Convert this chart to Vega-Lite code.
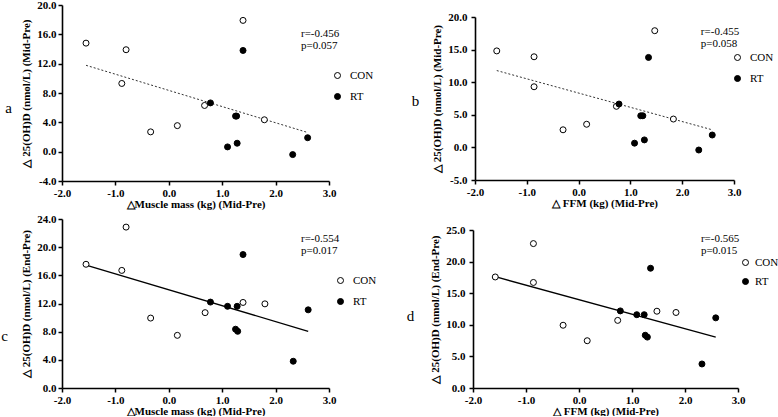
{
  "$schema": "https://vega.github.io/schema/vega-lite/v6.json",
  "padding": {"left": 1, "top": -1, "right": 0, "bottom": 0},
  "background": "white",
  "config": {
    "view": {"stroke": null},
    "font": "Liberation Serif",
    "axis": {
      "grid": false, "domainColor": "black", "domainWidth": 1.6, "tickColor": "black", "tickWidth": 1.5, "tickSize": 4,
      "labelFont": "Liberation Serif", "labelFontSize": 11, "labelFontWeight": "bold", "labelColor": "black", "labelPadding": 2,
      "labelOverlap": false, "labelFlush": false, "tickCount": 12,
      "titleFont": "Liberation Serif", "titleFontSize": 11, "titleFontWeight": "bold", "titleColor": "black",
      "format": ".1f", "labelExpr": "replace(datum.label, '−', '-')"
    },
    "axisX": {"titlePadding": 0},
    "axisY": {"titlePadding": 5},
    "legend": {
      "orient": "none", "title": null, "symbolType": "circle", "symbolSize": 36, "symbolStrokeColor": "black", "symbolStrokeWidth": 1,
      "labelFont": "Liberation Serif", "labelFontSize": 11, "labelColor": "black", "labelOffset": 7, "rowPadding": 9, "padding": 0
    },
    "text": {"font": "Liberation Serif", "color": "black", "fontSize": 11}
  },
  "datasets": {
    "points": [
      {"panel": "a", "group": "CON", "x": -1.55, "y": 14.8},
      {"panel": "a", "group": "CON", "x": -0.80, "y": 13.9},
      {"panel": "a", "group": "CON", "x": -0.88, "y": 9.3},
      {"panel": "a", "group": "CON", "x": -0.34, "y": 2.7},
      {"panel": "a", "group": "CON", "x": 0.16, "y": 3.55},
      {"panel": "a", "group": "CON", "x": 0.67, "y": 6.3},
      {"panel": "a", "group": "CON", "x": 1.39, "y": 17.9},
      {"panel": "a", "group": "CON", "x": 1.79, "y": 4.35},
      {"panel": "a", "group": "RT", "x": 0.78, "y": 6.65},
      {"panel": "a", "group": "RT", "x": 1.39, "y": 13.8},
      {"panel": "a", "group": "RT", "x": 1.25, "y": 4.85},
      {"panel": "a", "group": "RT", "x": 1.27, "y": 4.85},
      {"panel": "a", "group": "RT", "x": 1.10, "y": 0.65},
      {"panel": "a", "group": "RT", "x": 1.28, "y": 1.15},
      {"panel": "a", "group": "RT", "x": 2.32, "y": -0.4},
      {"panel": "a", "group": "RT", "x": 2.60, "y": 1.9},
      {"panel": "b", "group": "CON", "x": -1.58, "y": 14.8},
      {"panel": "b", "group": "CON", "x": -0.86, "y": 13.9},
      {"panel": "b", "group": "CON", "x": -0.86, "y": 9.3},
      {"panel": "b", "group": "CON", "x": -0.30, "y": 2.7},
      {"panel": "b", "group": "CON", "x": 0.155, "y": 3.55},
      {"panel": "b", "group": "CON", "x": 0.73, "y": 6.3},
      {"panel": "b", "group": "CON", "x": 1.47, "y": 17.9},
      {"panel": "b", "group": "CON", "x": 1.83, "y": 4.35},
      {"panel": "b", "group": "RT", "x": 0.78, "y": 6.65},
      {"panel": "b", "group": "RT", "x": 1.35, "y": 13.8},
      {"panel": "b", "group": "RT", "x": 1.20, "y": 4.85},
      {"panel": "b", "group": "RT", "x": 1.24, "y": 4.85},
      {"panel": "b", "group": "RT", "x": 1.08, "y": 0.65},
      {"panel": "b", "group": "RT", "x": 1.27, "y": 1.15},
      {"panel": "b", "group": "RT", "x": 2.32, "y": -0.4},
      {"panel": "b", "group": "RT", "x": 2.58, "y": 1.9},
      {"panel": "c", "group": "CON", "x": -1.55, "y": 17.57},
      {"panel": "c", "group": "CON", "x": -0.80, "y": 22.85},
      {"panel": "c", "group": "CON", "x": -0.88, "y": 16.7},
      {"panel": "c", "group": "CON", "x": -0.34, "y": 9.93},
      {"panel": "c", "group": "CON", "x": 0.16, "y": 7.48},
      {"panel": "c", "group": "CON", "x": 0.68, "y": 10.7},
      {"panel": "c", "group": "CON", "x": 1.39, "y": 12.15},
      {"panel": "c", "group": "CON", "x": 1.80, "y": 11.95},
      {"panel": "c", "group": "RT", "x": 0.78, "y": 12.2},
      {"panel": "c", "group": "RT", "x": 1.10, "y": 11.6},
      {"panel": "c", "group": "RT", "x": 1.28, "y": 11.6},
      {"panel": "c", "group": "RT", "x": 1.25, "y": 8.35},
      {"panel": "c", "group": "RT", "x": 1.29, "y": 8.05},
      {"panel": "c", "group": "RT", "x": 1.39, "y": 18.95},
      {"panel": "c", "group": "RT", "x": 2.33, "y": 3.8},
      {"panel": "c", "group": "RT", "x": 2.61, "y": 11.1},
      {"panel": "d", "group": "CON", "x": -1.58, "y": 17.57},
      {"panel": "d", "group": "CON", "x": -0.86, "y": 22.85},
      {"panel": "d", "group": "CON", "x": -0.86, "y": 16.7},
      {"panel": "d", "group": "CON", "x": -0.30, "y": 9.93},
      {"panel": "d", "group": "CON", "x": 0.155, "y": 7.48},
      {"panel": "d", "group": "CON", "x": 0.73, "y": 10.7},
      {"panel": "d", "group": "CON", "x": 1.47, "y": 12.15},
      {"panel": "d", "group": "CON", "x": 1.83, "y": 11.95},
      {"panel": "d", "group": "RT", "x": 0.78, "y": 12.2},
      {"panel": "d", "group": "RT", "x": 1.09, "y": 11.6},
      {"panel": "d", "group": "RT", "x": 1.23, "y": 11.6},
      {"panel": "d", "group": "RT", "x": 1.25, "y": 8.35},
      {"panel": "d", "group": "RT", "x": 1.29, "y": 8.05},
      {"panel": "d", "group": "RT", "x": 1.35, "y": 18.95},
      {"panel": "d", "group": "RT", "x": 2.32, "y": 3.8},
      {"panel": "d", "group": "RT", "x": 2.58, "y": 11.1}
    ],
    "notes": [
      {"panel": "a", "letter": "a", "r": "r=-0.456", "p": "p=0.057"},
      {"panel": "b", "letter": "b", "r": "r=-0.455", "p": "p=0.058"},
      {"panel": "c", "letter": "c", "r": "r=-0.554", "p": "p=0.017"},
      {"panel": "d", "letter": "d", "r": "r=-0.565", "p": "p=0.015"}
    ]
  },
  "bounds": "flush",
  "spacing": 214,
  "resolve": {"scale": {"fill": "independent"}, "legend": {"fill": "independent"}},
  "vconcat": [
    {
      "bounds": "flush",
      "spacing": 146,
      "resolve": {"scale": {"fill": "independent"}, "legend": {"fill": "independent"}},
      "hconcat": [
        {
          "width": 267, "height": 176,
          "layer": [
            {
              "data": {"name": "points"},
              "transform": [{"filter": "datum.panel === 'a'"}, {"regression": "y", "on": "x"}],
              "mark": {"type": "line", "color": "#333333", "strokeWidth": 1, "strokeDash": [2, 2]},
              "encoding": {
                "x": {"field": "x", "type": "quantitative", "scale": {"domain": [-2, 3], "nice": false, "zero": false}, "axis": {"values": [-2, -1, 0, 1, 2, 3], "title": "△Muscle mass (kg) (Mid-Pre)"}},
                "y": {"field": "y", "type": "quantitative", "scale": {"domain": [-4, 20], "nice": false, "zero": false}, "axis": {"values": [-4, 0, 4, 8, 12, 16, 20], "title": "△ 25(OH)D (nmol/L) (Mid-Pre)"}}
              }
            },
            {
              "data": {"name": "points"},
              "transform": [{"filter": "datum.panel === 'a'"}],
              "mark": {"type": "point", "shape": "circle", "filled": true, "stroke": "black", "strokeWidth": 1, "size": 36, "opacity": 1},
              "encoding": {
                "x": {"field": "x", "type": "quantitative"},
                "y": {"field": "y", "type": "quantitative"},
                "fill": {"field": "group", "type": "nominal", "scale": {"domain": ["CON", "RT"], "range": ["white", "black"]}, "legend": {"legendX": 270, "legendY": 65}}
              }
            },
            {
              "data": {"name": "notes"},
              "transform": [{"filter": "datum.panel === 'a'"}],
              "mark": {"type": "text", "align": "left", "baseline": "middle", "dy": -6},
              "encoding": {"x": {"datum": 2.475}, "y": {"datum": 15.23}, "text": {"field": "r"}}
            },
            {
              "data": {"name": "notes"},
              "transform": [{"filter": "datum.panel === 'a'"}],
              "mark": {"type": "text", "align": "left", "baseline": "middle", "dy": 6},
              "encoding": {"x": {"datum": 2.475}, "y": {"datum": 15.23}, "text": {"field": "p"}}
            },
            {
              "data": {"name": "notes"},
              "transform": [{"filter": "datum.panel === 'a'"}],
              "mark": {"type": "text", "align": "center", "baseline": "middle", "fontSize": 15},
              "encoding": {"x": {"datum": -3.0}, "y": {"datum": 5.95}, "text": {"field": "letter"}}
            }
          ]
        },
        {
          "bounds": "flush",
          "spacing": 0,
          "vconcat": [
            {
              "width": 259, "height": 12,
              "data": {"values": []},
              "mark": {"type": "point"},
              "encoding": {}
            },
            {
              "width": 259, "height": 163,
              "layer": [
                {
                  "data": {"name": "points"},
                  "transform": [{"filter": "datum.panel === 'b'"}, {"regression": "y", "on": "x"}],
                  "mark": {"type": "line", "color": "#333333", "strokeWidth": 1, "strokeDash": [2, 2]},
                  "encoding": {
                    "x": {"field": "x", "type": "quantitative", "scale": {"domain": [-2, 3], "nice": false, "zero": false}, "axis": {"values": [-2, -1, 0, 1, 2, 3], "title": "△ FFM (kg) (Mid-Pre)"}},
                    "y": {"field": "y", "type": "quantitative", "scale": {"domain": [-5, 20], "nice": false, "zero": false}, "axis": {"values": [-5, 0, 5, 10, 15, 20], "title": "△ 25(OH)D (nmol/L) (Mid-Pre)", "labelPadding": 4}}
                  }
                },
                {
                  "data": {"name": "points"},
                  "transform": [{"filter": "datum.panel === 'b'"}],
                  "mark": {"type": "point", "shape": "circle", "filled": true, "stroke": "black", "strokeWidth": 1, "size": 36, "opacity": 1},
                  "encoding": {
                    "x": {"field": "x", "type": "quantitative"},
                    "y": {"field": "y", "type": "quantitative"},
                    "fill": {"field": "group", "type": "nominal", "scale": {"domain": ["CON", "RT"], "range": ["white", "black"]}, "legend": {"legendX": 257, "legendY": 47}}
                  }
                },
                {
                  "data": {"name": "notes"},
                  "transform": [{"filter": "datum.panel === 'b'"}],
                  "mark": {"type": "text", "align": "left", "baseline": "middle", "dy": -6},
                  "encoding": {"x": {"datum": 2.36}, "y": {"datum": 16.78}, "text": {"field": "r"}}
                },
                {
                  "data": {"name": "notes"},
                  "transform": [{"filter": "datum.panel === 'b'"}],
                  "mark": {"type": "text", "align": "left", "baseline": "middle", "dy": 6},
                  "encoding": {"x": {"datum": 2.36}, "y": {"datum": 16.78}, "text": {"field": "p"}}
                },
                {
                  "data": {"name": "notes"},
                  "transform": [{"filter": "datum.panel === 'b'"}],
                  "mark": {"type": "text", "align": "center", "baseline": "middle", "fontSize": 15},
                  "encoding": {"x": {"datum": -3.149}, "y": {"datum": 7.12}, "text": {"field": "letter"}}
                }
              ]
            }
          ]
        }
      ]
    },
    {
      "bounds": "flush",
      "spacing": 144,
      "resolve": {"scale": {"fill": "independent"}, "legend": {"fill": "independent"}},
      "hconcat": [
        {
          "width": 267, "height": 169,
          "layer": [
            {
              "data": {"name": "points"},
              "transform": [{"filter": "datum.panel === 'c'"}, {"regression": "y", "on": "x"}],
              "mark": {"type": "line", "color": "black", "strokeWidth": 1.3},
              "encoding": {
                "x": {"field": "x", "type": "quantitative", "scale": {"domain": [-2, 3], "nice": false, "zero": false}, "axis": {"values": [-2, -1, 0, 1, 2, 3], "title": "△Muscle mass (kg) (Mid-Pre)"}},
                "y": {"field": "y", "type": "quantitative", "scale": {"domain": [0, 24], "nice": false, "zero": false}, "axis": {"values": [0, 4, 8, 12, 16, 20, 24], "title": "△ 25(OH)D (nmol/L) (End-Pre)"}}
              }
            },
            {
              "data": {"name": "points"},
              "transform": [{"filter": "datum.panel === 'c'"}],
              "mark": {"type": "point", "shape": "circle", "filled": true, "stroke": "black", "strokeWidth": 1, "size": 36, "opacity": 1},
              "encoding": {
                "x": {"field": "x", "type": "quantitative"},
                "y": {"field": "y", "type": "quantitative"},
                "fill": {"field": "group", "type": "nominal", "scale": {"domain": ["CON", "RT"], "range": ["white", "black"]}, "legend": {"legendX": 273, "legendY": 56}}
              }
            },
            {
              "data": {"name": "notes"},
              "transform": [{"filter": "datum.panel === 'c'"}],
              "mark": {"type": "text", "align": "left", "baseline": "middle", "dy": -6},
              "encoding": {"x": {"datum": 2.475}, "y": {"datum": 20.24}, "text": {"field": "r"}}
            },
            {
              "data": {"name": "notes"},
              "transform": [{"filter": "datum.panel === 'c'"}],
              "mark": {"type": "text", "align": "left", "baseline": "middle", "dy": 6},
              "encoding": {"x": {"datum": 2.475}, "y": {"datum": 20.24}, "text": {"field": "p"}}
            },
            {
              "data": {"name": "notes"},
              "transform": [{"filter": "datum.panel === 'c'"}],
              "mark": {"type": "text", "align": "center", "baseline": "middle", "fontSize": 15},
              "encoding": {"x": {"datum": -3.077}, "y": {"datum": 7.38}, "text": {"field": "letter"}}
            }
          ]
        },
        {
          "bounds": "flush",
          "spacing": 0,
          "vconcat": [
            {
              "width": 265, "height": 11,
              "data": {"values": []},
              "mark": {"type": "point"},
              "encoding": {}
            },
            {
              "width": 265, "height": 158,
              "layer": [
                {
                  "data": {"name": "points"},
                  "transform": [{"filter": "datum.panel === 'd'"}, {"regression": "y", "on": "x"}],
                  "mark": {"type": "line", "color": "black", "strokeWidth": 1.3},
                  "encoding": {
                    "x": {"field": "x", "type": "quantitative", "scale": {"domain": [-2, 3], "nice": false, "zero": false}, "axis": {"values": [-2, -1, 0, 1, 2, 3], "title": "△ FFM (kg) (Mid-Pre)"}},
                    "y": {"field": "y", "type": "quantitative", "scale": {"domain": [0, 25], "nice": false, "zero": false}, "axis": {"values": [0, 5, 10, 15, 20, 25], "title": "△ 25(OH)D (nmol/L) (End-Pre)", "labelPadding": 4}}
                  }
                },
                {
                  "data": {"name": "points"},
                  "transform": [{"filter": "datum.panel === 'd'"}],
                  "mark": {"type": "point", "shape": "circle", "filled": true, "stroke": "black", "strokeWidth": 1, "size": 36, "opacity": 1},
                  "encoding": {
                    "x": {"field": "x", "type": "quantitative"},
                    "y": {"field": "y", "type": "quantitative"},
                    "fill": {"field": "group", "type": "nominal", "scale": {"domain": ["CON", "RT"], "range": ["white", "black"]}, "legend": {"legendX": 267, "legendY": 38, "rowPadding": 7, "labelOffset": 4}}
                  }
                },
                {
                  "data": {"name": "notes"},
                  "transform": [{"filter": "datum.panel === 'd'"}],
                  "mark": {"type": "text", "align": "left", "baseline": "middle", "dy": -6},
                  "encoding": {"x": {"datum": 2.30}, "y": {"datum": 22.63}, "text": {"field": "r"}}
                },
                {
                  "data": {"name": "notes"},
                  "transform": [{"filter": "datum.panel === 'd'"}],
                  "mark": {"type": "text", "align": "left", "baseline": "middle", "dy": 6},
                  "encoding": {"x": {"datum": 2.30}, "y": {"datum": 22.63}, "text": {"field": "p"}}
                },
                {
                  "data": {"name": "notes"},
                  "transform": [{"filter": "datum.panel === 'd'"}],
                  "mark": {"type": "text", "align": "center", "baseline": "middle", "fontSize": 15},
                  "encoding": {"x": {"datum": -3.179}, "y": {"datum": 11.39}, "text": {"field": "letter"}}
                }
              ]
            }
          ]
        }
      ]
    }
  ]
}
